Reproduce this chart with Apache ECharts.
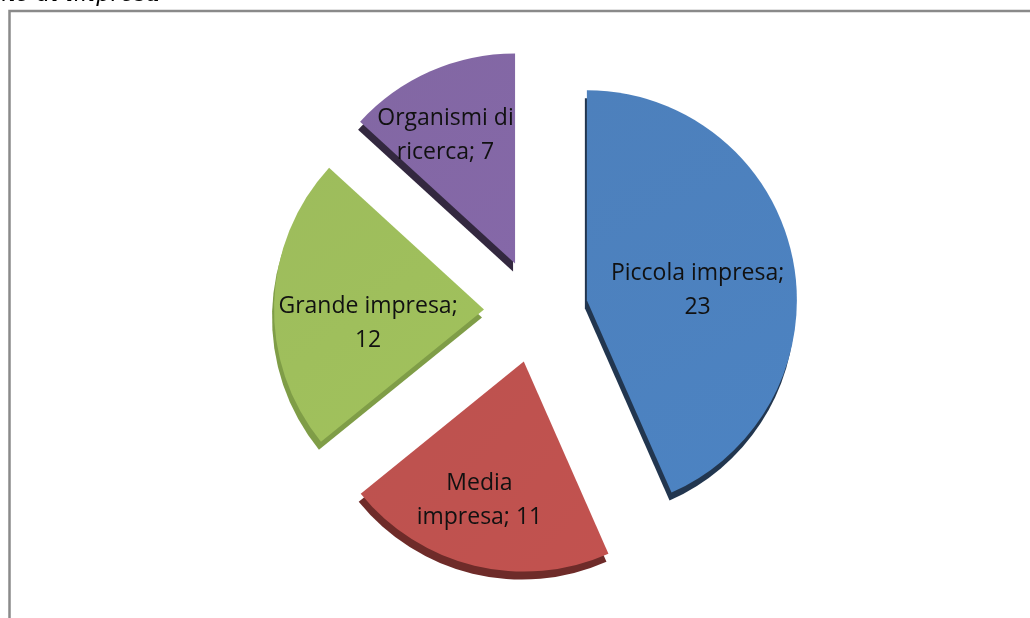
<!DOCTYPE html>
<html>
<head>
<meta charset="utf-8">
<script src="https://cdn.jsdelivr.net/npm/echarts@6/dist/echarts.min.js"></script>
<style>
  html, body { margin: 0; padding: 0; background: #ffffff; }
  #chart { width: 1030px; height: 618px; }
</style>
</head>
<body>
<div id="chart"></div>
<script>
// Categories and counts per organisation size
const categories = ['Piccola impresa', 'Media impresa', 'Grande impresa', 'Organismi di ricerca'];
const counts = [23, 11, 12, 7];
// number of words kept on the first label line
const firstLineWords = [2, 1, 2, 2];

// top face colours and the darker side ("depth") colours
const faceColors = ['#4a7ebb', '#bb4f4c', '#9bbb59', '#8064a2'];
const sideColors = ['#22364f', '#6e2b29', '#7f9d47', '#33283f'];
// nudges for the inside labels
const labelShift = [[5, 12], [-19, 34], [-8, 17], [-26, -29]];

const chart = echarts.init(document.getElementById('chart'));

function labelText(p) {
  const words = p.name.split(' ');
  const k = firstLineWords[p.dataIndex];
  const first = words.slice(0, k).join(' ');
  const rest = words.slice(k).join(' ');
  if (rest) return first + '\n' + rest + '; ' + p.value;
  return first + ';\n' + p.value;
}

const CENTER = [536, 311];
const RADIUS = 210;
const EXPLODE = 52;

chart.setOption({
  animation: false,
  backgroundColor: '#ffffff',
  graphic: [
    {
      type: 'rect',
      silent: true,
      shape: { x: 9.5, y: 11, width: 1100, height: 700 },
      style: { fill: 'none', stroke: '#8a8a8a', lineWidth: 2.5 }
    },
    {
      type: 'text',
      silent: true,
      style: {
        x: 160, y: 7,
        text: 'Partecipanti per dimensione di impresa',
        align: 'right', verticalAlign: 'bottom',
        font: 'italic 23px "DejaVu Serif", "Liberation Serif", serif',
        fill: '#000000'
      }
    }
  ],
  series: [
    {
      // side walls of the exploded slices
      type: 'pie',
      silent: true,
      center: [CENTER[0] - 2, CENTER[1] + 8],
      radius: RADIUS,
      startAngle: 90,
      selectedMode: 'multiple',
      selectedOffset: EXPLODE,
      label: { show: false },
      labelLine: { show: false },
      emphasis: { disabled: true },
      data: categories.map((c, i) => ({
        name: c, value: counts[i], selected: true,
        itemStyle: { color: sideColors[i] }
      }))
    },
    {
      type: 'pie',
      silent: true,
      center: CENTER,
      radius: RADIUS,
      startAngle: 90,
      selectedMode: 'multiple',
      selectedOffset: EXPLODE,
      emphasis: { disabled: true },
      labelLine: { show: false },
      label: {
        show: true,
        position: 'inside',
        formatter: labelText,
        color: '#111111',
        fontFamily: '"Open Sans", "Noto Sans", sans-serif',
        fontSize: 23,
        lineHeight: 34,
        align: 'center'
      },
      labelLayout: function (p) {
        const s = labelShift[p.dataIndex];
        return { dx: s[0], dy: s[1] };
      },
      data: categories.map((c, i) => ({
        name: c, value: counts[i], selected: true,
        itemStyle: {
          color: new echarts.graphic.LinearGradient(0, 0, 1, 1, [
            { offset: 0, color: echarts.color.lift(faceColors[i], 0.02) },
            { offset: 1, color: echarts.color.lift(faceColors[i], -0.04) }
          ])
        }
      }))
    }
  ]
});
</script>
</body>
</html>
